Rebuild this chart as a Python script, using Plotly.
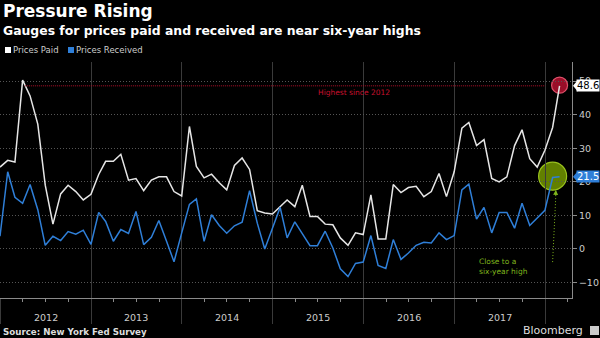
import pandas as pd
import plotly.graph_objects as go

# ---- data (monthly, Empire State Manufacturing Survey) ----
dates = pd.date_range("2011-12-31", periods=75, freq="ME")
prices_paid = [24.4, 26.4, 25.9, 50.3, 45.6, 37.2, 19.0, 7.4, 16.4, 19.0, 17.1, 14.6, 16.3, 22.2, 26.1, 26.1,
               28.2, 20.5, 21.0, 17.4, 20.5, 21.5, 21.5, 17.1, 15.8, 36.5, 24.6, 21.2, 22.3, 19.7, 17.6,
               24.9, 27.1, 23.7, 11.4, 10.7, 10.4, 12.6, 14.6, 12.6, 19.0, 9.7, 9.7, 7.4, 7.2, 3.3,
               1.1, 4.8, 4.3, 16.1, 3.0, 3.0, 19.2, 16.8, 18.3, 18.7, 15.6, 17.1, 22.5, 15.6, 23.0,
               36.0, 37.7, 30.8, 32.6, 21.0, 20.0, 21.5, 30.8, 35.5, 26.9, 24.4, 29.4, 36.2, 48.6]
prices_received = [3.8, 23.0, 15.4, 13.6, 19.2, 11.7, 1.1, 3.8, 2.5, 5.2, 4.4, 5.6, 1.4, 10.9, 8.2, 2.3,
                   5.8, 4.6, 11.2, 1.3, 3.5, 8.5, 2.3, -3.8, 4.8, 13.3, 14.9, 2.3, 10.2, 7.0, 4.7,
                   6.9, 8.0, 17.4, 7.7, 0.0, 6.2, 12.4, 3.3, 8.1, 4.6, 1.0, 1.0, 5.3, 0.3, -5.9,
                   -8.2, -4.3, -3.9, 4.0, -4.9, -5.8, 2.8, -3.1, -1.2, 1.1, 2.0, 1.8, 4.8, 2.8, 4.0,
                   17.6, 19.3, 8.9, 12.4, 4.8, 10.9, 10.9, 6.2, 13.6, 7.0, 9.2, 11.5, 21.3, 21.5]
years = [2012, 2013, 2014, 2015, 2016, 2017]
y_ticks = [-10, 0, 10, 20, 30, 40, 50]

WHITE = "#e6e6e6"
BLUE = "#2f7fd8"
RED = "#c8102e"
GREEN = "#7fb51c"
FONT = "DejaVu Sans"

fig = go.Figure()
fig.add_trace(go.Scatter(x=dates, y=prices_paid, mode="lines", name="Prices Paid",
                         line=dict(color=WHITE, width=1.5), showlegend=False))
fig.add_trace(go.Scatter(x=dates, y=prices_received, mode="lines", name="Prices Received",
                         line=dict(color=BLUE, width=1.5), showlegend=False))

year_starts = [f"{y}-01-01" for y in years + [2018]]
quarter_ticks = [f"{y}-{m:02d}-01" for y in years for m in (4, 7, 10)] + ["2018-04-01"]

fig.update_layout(
    width=600, height=338, autosize=False,
    paper_bgcolor="black", plot_bgcolor="black",
    margin=dict(l=0, r=28, t=62, b=40),
    font=dict(family=FONT, color="#cccccc"),
    xaxis=dict(
        type="date", range=["2011-12-31", "2018-04-19"],
        tickmode="array", tickvals=year_starts, showticklabels=False,
        ticks="outside", ticklen=25, tickcolor="#3a3a3a", tickwidth=1,
        showgrid=True, gridcolor="#3a3a3a", gridwidth=1,
        showline=True, linecolor="#8a8a8a", linewidth=1,
        minor=dict(tickmode="array", tickvals=quarter_ticks, ticks="outside",
                   ticklen=3, tickcolor="#8a8a8a", showgrid=False),
    ),
    yaxis=dict(
        side="right", range=[-14.6, 55.7],
        tickmode="array", tickvals=y_ticks,
        showgrid=True, gridcolor="#555555", griddash="1px,2px", gridwidth=1,
        zeroline=False, showline=True, linecolor="#8a8a8a", linewidth=1,
        ticks="outside", ticklen=4, tickcolor="#8a8a8a",
        tickfont=dict(size=9.5, color="#cccccc"),
    ),
)

shapes = []
# red reference line at current level
shapes.append(dict(type="line", xref="x", yref="y", x0="2012-04-09", x1="2018-01-01",
                   y0=prices_paid[-1], y1=prices_paid[-1],
                   line=dict(color="#b0102a", width=1, dash="1px,1px")))
# highlight circles
shapes.append(dict(type="circle", layer="below", xref="x", yref="y",
                   xsizemode="pixel", ysizemode="pixel",
                   xanchor=dates[-1].strftime("%Y-%m-%d"), yanchor=48.8,
                   x0=-8, x1=8, y0=-8, y1=8,
                   fillcolor="rgba(170,16,44,0.9)", line=dict(color="#e0506a", width=1.2)))
shapes.append(dict(type="circle", layer="below", xref="x", yref="y",
                   xsizemode="pixel", ysizemode="pixel",
                   xanchor=dates[-2].strftime("%Y-%m-%d"), yanchor=21.7,
                   x0=-14, x1=14, y0=-14, y1=14,
                   fillcolor="rgba(115,150,0,0.85)", line=dict(color="#9ac31c", width=1.2)))
# green dotted pointer
shapes.append(dict(type="line", xref="x", yref="y", x0="2018-01-31", y0=-3.9,
                   x1="2018-02-13", y1=16.0,
                   line=dict(color=GREEN, width=1, dash="1px,2px")))
# value-label pointers on right axis
for val, col in [(prices_paid[-1], "white"), (prices_received[-1], BLUE)]:
    shapes.append(dict(type="path", xref="paper", yref="y", xsizemode="pixel", ysizemode="pixel",
                       xanchor=1, yanchor=val, path="M1,0 L6,6 L6,-6 Z",
                       fillcolor=col, line=dict(width=0)))
# legend squares
for x0, col in [(5, "white"), (68, BLUE)]:
    shapes.append(dict(type="rect", xref="paper", yref="paper", xsizemode="pixel", ysizemode="pixel",
                       xanchor=0, yanchor=1, x0=x0, x1=x0 + 6, y0=9, y1=15,
                       fillcolor=col, line=dict(width=0)))
# Bloomberg icon
shapes.append(dict(type="rect", xref="paper", yref="paper", xsizemode="pixel", ysizemode="pixel",
                   xanchor=1, yanchor=0, x0=18, x1=27, y0=-37, y1=-28,
                   fillcolor="#cccccc", line=dict(width=0)))
fig.update_layout(shapes=shapes)

ann = []
ann.append(dict(text="<b>Pressure Rising</b>", xref="paper", yref="paper", x=0, y=1,
                xanchor="left", yanchor="middle", xshift=1, yshift=51, showarrow=False,
                font=dict(size=17, color="white", family=FONT)))
ann.append(dict(text="<b>Gauges for prices paid and received are near six-year highs</b>",
                xref="paper", yref="paper", x=0, y=1, xanchor="left", yanchor="middle",
                xshift=1, yshift=32, showarrow=False, font=dict(size=12.4, color="white", family=FONT)))
ann.append(dict(text="Prices Paid", xref="paper", yref="paper", x=0, y=1, xanchor="left",
                yanchor="middle", xshift=11, yshift=12, showarrow=False,
                font=dict(size=8.5, color="#cccccc")))
ann.append(dict(text="Prices Received", xref="paper", yref="paper", x=0, y=1, xanchor="left",
                yanchor="middle", xshift=74, yshift=12, showarrow=False,
                font=dict(size=8.5, color="#cccccc")))
for y in years:
    ann.append(dict(text=str(y), xref="x", yref="paper", x=f"{y}-07-02", y=0,
                    yanchor="middle", yshift=-19, showarrow=False,
                    font=dict(size=9.5, color="#cccccc")))
ann.append(dict(text="<b>Source: New York Fed Survey</b>", xref="paper", yref="paper", x=0, y=0,
                xanchor="left", yanchor="middle", xshift=1, yshift=-34, showarrow=False,
                font=dict(size=8.7, color="#dddddd")))
ann.append(dict(text="Bloomberg", xref="paper", yref="paper", x=1, y=0,
                xanchor="right", yanchor="middle", xshift=13, yshift=-32, showarrow=False,
                font=dict(size=11, color="#dddddd")))
ann.append(dict(text="Highest since 2012", xref="x", yref="y", x="2015-11-24", y=46.6,
                showarrow=False, font=dict(size=7.5, color=RED)))
ann.append(dict(text="Close to a<br>six-year high", xref="x", yref="y", x="2017-04-01", y=-5.2,
                xanchor="left", align="left", showarrow=False, font=dict(size=7.5, color=GREEN)))
ann.append(dict(text="", xref="x", yref="y", x="2018-02-13", y=17.6, ax=-0.3, ay=7,
                showarrow=True, arrowhead=2, arrowsize=1, arrowwidth=1, arrowcolor=GREEN))
ann.append(dict(text="48.6", xref="paper", yref="y", x=1, y=prices_paid[-1], xanchor="left",
                xshift=4, showarrow=False, bgcolor="white", borderpad=0,
                font=dict(size=10, color="black")))
ann.append(dict(text="21.5", xref="paper", yref="y", x=1, y=prices_received[-1], xanchor="left",
                xshift=4, showarrow=False, bgcolor=BLUE, borderpad=0,
                font=dict(size=10, color="white")))
fig.update_layout(annotations=ann)

fig.write_html("out.html")
